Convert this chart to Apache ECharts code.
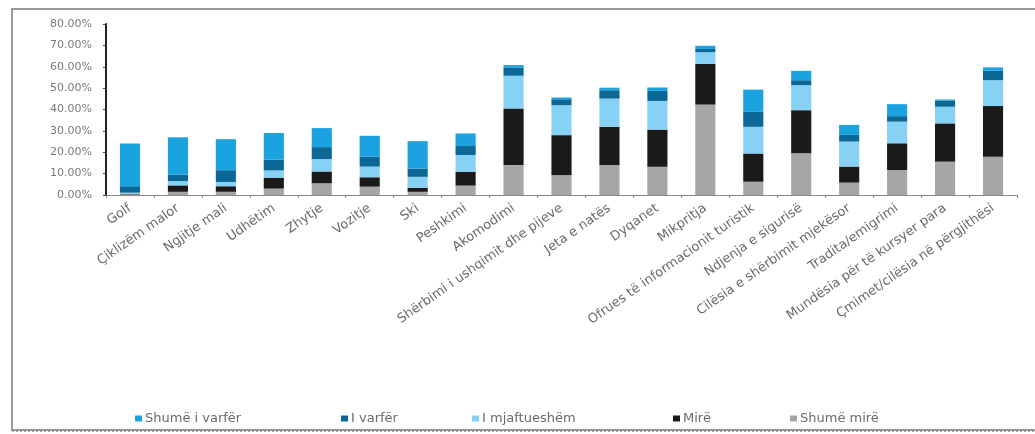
<!DOCTYPE html>
<html>
<head>
<meta charset="utf-8">
<script src="https://cdn.jsdelivr.net/npm/echarts@6/dist/echarts.min.js"></script>
<style>
html,body{margin:0;padding:0;background:#fff;}
#chart{width:1035px;height:434px;}
</style>
</head>
<body>
<div id="chart"></div>
<script>
var categories = ["Golf", "Çiklizëm malor", "Ngjitje mali", "Udhëtim", "Zhytje", "Vozitje", "Ski", "Peshkimi", "Akomodimi", "Shërbimi i ushqimit dhe pijeve", "Jeta e natës", "Dyqanet", "Mikpritja", "Ofrues të informacionit turistik", "Ndjenja e sigurisë", "Cilësia e shërbimit mjekësor", "Tradita/emigrimi", "Mundësia për të kursyer para", "Çmimet/cilësia në përgjithësi"];
var seriesNames = ["Shumë i varfër", "I varfër", "I mjaftueshëm", "Mirë", "Shumë mirë"];
var shumeMire   = [0.3, 1.5, 1.5, 3.0, 5.5, 3.9, 1.5, 4.4, 14.0, 9.3, 14.0, 13.2, 42.3, 6.2, 19.5, 5.8, 11.7, 15.6, 17.9];
var mire        = [0.3, 3.0, 2.6, 5.1, 5.5, 4.4, 1.9, 6.5, 26.5, 18.7, 17.9, 17.4, 19.0, 13.2, 20.2, 7.5, 12.5, 17.9, 23.7];
var mjaftueshem = [0.5, 2.0, 2.0, 3.4, 5.8, 5.0, 5.1, 7.8, 15.3, 14.0, 13.2, 13.4, 5.5, 12.5, 11.7, 11.7, 10.1, 7.8, 12.1];
var varfer      = [3.0, 3.0, 5.5, 5.0, 5.6, 4.7, 3.9, 4.2, 3.9, 2.8, 3.9, 4.7, 1.5, 7.0, 2.3, 3.1, 2.6, 2.9, 4.4];
var shumeVarfer = [20.0, 17.5, 14.5, 12.5, 8.9, 9.7, 12.8, 5.9, 1.1, 0.8, 1.2, 1.6, 1.5, 10.4, 4.4, 4.7, 5.6, 0.5, 1.6];
var yTickValues = [0, 10, 20, 30, 40, 50, 60, 70, 80];

var colors = {
  "Shumë i varfër": "#1ba3e0",
  "I varfër": "#0a6796",
  "I mjaftueshëm": "#86d1f4",
  "Mirë": "#1a1a1a",
  "Shumë mirë": "#a6a6a6"
};
var dataByName = {
  "Shumë mirë": shumeMire,
  "Mirë": mire,
  "I mjaftueshëm": mjaftueshem,
  "I varfër": varfer,
  "Shumë i varfër": shumeVarfer
};
var stackOrder = ["Shumë mirë", "Mirë", "I mjaftueshëm", "I varfër", "Shumë i varfër"];

var series = stackOrder.map(function (n) {
  return {
    name: n, type: 'bar', stack: 'total', barWidth: '42%',
    itemStyle: { color: colors[n] },
    data: dataByName[n]
  };
});

var legendLeft = [130, 336, 467, 668, 785];
var legends = seriesNames.map(function (n, i) {
  return {
    data: [n], left: legendLeft[i], top: 407, icon: 'rect',
    itemWidth: 7, itemHeight: 6, itemGap: 4,
    selectedMode: false,
    textStyle: { color: '#6a6a6a', fontSize: 13, fontFamily: 'DejaVu Sans', padding: [0,0,0,-2] }
  };
});

var chart = echarts.init(document.getElementById('chart'));
chart.setOption({
  animation: false,
  backgroundColor: '#fff',
  color: stackOrder.map(function (n) { return colors[n]; }),
  legend: legends,
  grid: { left: 106, right: 18, top: 24, bottom: 239 },
  graphic: [
    { type: 'rect', shape: { x: 12, y: 9, width: 1040, height: 421 },
      style: { fill: 'none', stroke: '#9a9a9a', lineWidth: 2 } },
    { type: 'line', shape: { x1: 12, y1: 431, x2: 1035, y2: 431 },
      style: { stroke: '#8a8a8a', lineWidth: 1.5, lineDash: [2, 2] } }
  ],
  xAxis: {
    type: 'category', data: categories,
    axisLine: { lineStyle: { color: '#8a8a8a', width: 1 } },
    axisTick: { show: true, length: 3, lineStyle: { color: '#8a8a8a' } },
    axisLabel: { rotate: 35, margin: 12, interval: 0, color: '#6a6a6a', fontSize: 13, fontFamily: 'DejaVu Sans' }
  },
  yAxis: {
    type: 'value', min: 0, max: 80, interval: 10,
    splitLine: { show: false },
    axisLine: { show: true, lineStyle: { color: '#222', width: 2 } },
    axisTick: { show: true, length: 3, lineStyle: { color: '#444' } },
    axisLabel: { color: '#7a7a7a', fontSize: 11, fontFamily: 'DejaVu Sans', margin: 14,
      formatter: function (v) { return yTickValues.indexOf(v) >= 0 ? v.toFixed(2) + '%' : ''; } }
  },
  series: series
});
</script>
</body>
</html>
